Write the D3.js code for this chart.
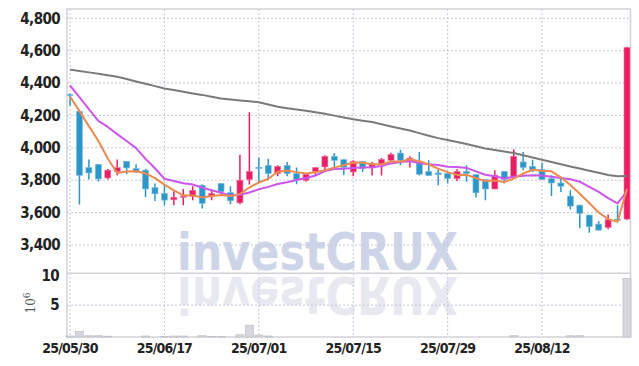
<!DOCTYPE html>
<html>
<head>
<meta charset="utf-8">
<script src="https://cdn.jsdelivr.net/npm/d3@7"></script>
<style>
  body { margin: 0; background: #fff; }
  svg { display: block; }
</style>
</head>
<body>
<svg id="chart"></svg>
<script>
const width = 639
const height = 366

// Data
const dates = ["25/05/30","25/06/02","25/06/04","25/06/05","25/06/09","25/06/10","25/06/11","25/06/12","25/06/13","25/06/16",
  "25/06/17","25/06/18","25/06/19","25/06/20","25/06/23","25/06/24","25/06/25","25/06/26","25/06/27","25/06/30",
  "25/07/01","25/07/02","25/07/03","25/07/04","25/07/07","25/07/08","25/07/09","25/07/10","25/07/11","25/07/14",
  "25/07/15","25/07/16","25/07/17","25/07/18","25/07/21","25/07/22","25/07/23","25/07/24","25/07/25","25/07/28",
  "25/07/29","25/07/30","25/07/31","25/08/01","25/08/04","25/08/05","25/08/06","25/08/07","25/08/08","25/08/11",
  "25/08/12","25/08/13","25/08/14","25/08/18","25/08/19","25/08/20","25/08/21","25/08/22","25/08/25","25/08/26"]

const opens = [4330,4225,3878,3898,3814,3853,3917,3872,3862,3755,3718,3679,3697,3700,3769,3702,3780,3724,3660,3804,
  3880,3892,3841,3892,3841,3800,3855,3882,3948,3927,3851,3917,3876,3898,3923,3968,3913,3917,3855,3845,
  3841,3810,3855,3835,3804,3746,3855,3820,3913,3886,3866,3810,3783,3702,3646,3585,3529,3509,3560,3560]
const highs = [4335,4230,3928,3900,3870,3928,3918,3898,3870,3780,3770,3732,3746,3763,3775,3738,3782,3763,3958,4220,
  3940,3933,3892,3913,3878,3845,3882,3954,3968,3930,3923,3918,3913,3937,3970,3988,3948,3974,3923,3868,
  3843,3868,3892,3838,3806,3862,3857,3991,3974,3927,3906,3831,3820,3738,3648,3587,3548,3589,3646,4625]
const lows = [4260,3650,3805,3792,3804,3830,3837,3845,3697,3671,3646,3646,3646,3677,3626,3677,3718,3652,3652,3773,
  3790,3804,3825,3825,3775,3790,3830,3851,3872,3830,3825,3851,3829,3829,3919,3892,3878,3829,3826,3769,
  3780,3796,3790,3693,3677,3745,3780,3818,3862,3851,3802,3702,3728,3620,3503,3476,3490,3497,3555,3555]
const closes = [4325,3830,3845,3808,3862,3878,3876,3851,3746,3716,3677,3695,3702,3738,3657,3718,3728,3673,3800,3855,
  3876,3841,3886,3841,3804,3837,3878,3948,3923,3878,3917,3872,3898,3929,3960,3923,3937,3837,3829,3835,
  3810,3855,3841,3722,3746,3831,3804,3948,3878,3862,3804,3783,3763,3640,3595,3513,3492,3558,3556,4620]

// moving averages as drawn (short, mid, long)
const ma5 = [4317,4227,4134,4044,3934,3845,3854,3855,3843,3813,3773,3737,3707,3706,3694,3702,3709,3703,3715,3755,
  3786,3809,3852,3860,3850,3842,3849,3862,3878,3893,3909,3908,3898,3899,3915,3916,3929,3917,3897,3872,
  3850,3833,3834,3813,3795,3799,3789,3810,3841,3865,3859,3855,3818,3770,3717,3659,3601,3560,3543,3748]
const ma10 = [4385,4313,4239,4167,4129,4085,4042,3998,3932,3874,3809,3795,3781,3774,3754,3738,3723,3705,3710,3724,
  3744,3759,3777,3788,3802,3814,3829,3857,3869,3871,3875,3878,3880,3888,3904,3913,3919,3907,3898,3894,
  3883,3881,3876,3855,3834,3824,3811,3822,3827,3830,3829,3822,3814,3806,3791,3759,3728,3689,3657,3732]
const maLong = [4483,4475,4466,4458,4449,4439,4425,4410,4396,4381,4367,4357,4346,4336,4327,4316,4305,4299,4293,4287,
  4281,4268,4254,4245,4237,4229,4220,4210,4199,4188,4177,4168,4159,4146,4132,4119,4107,4091,4075,4060,
  4048,4036,4024,4010,3996,3986,3977,3968,3954,3940,3926,3912,3899,3885,3872,3859,3846,3832,3824,3826]

// volume in millions
const volumes = [0.15,0.85,0.2,0.2,0.12,0,0,0,0.15,0,0.1,0.15,0.15,0,0.2,0.1,0.1,0,0.35,1.85,
  0.3,0.15,0,0,0,0,0,0,0,0,0,0,0,0,0,0,0,0,0,0,
  0,0,0,0,0,0,0,0.2,0,0,0,0,0,0.2,0.2,0,0,0,0,9.2]

const priceTicks = [3400, 3600, 3800, 4000, 4200, 4400, 4600, 4800]
const volumeTicks = [5, 10]
const dateTicks = ["25/05/30","25/06/17","25/07/01","25/07/15","25/07/29","25/08/12"]

// Layout
const plotLeft = 67
const plotRight = 630.5
const priceTop = 9
const priceBottom = 273.3
const volumeBottom = 337

const upColor = "#e91e63"
const downColor = "#2d96c9"
const gridColor = "#c4c8dc"
const frameColor = "#d2d2d8"
const labelFont = "'Liberation Sans Narrow', 'DejaVu Sans Condensed', sans-serif"
const markFont = "'DejaVu Sans', sans-serif"

const svg = d3.select("#chart")
    .attr("width", width)
    .attr("height", height)

const x = d3.scalePoint()
    .domain(dates)
    .range([70, 627])

const y = d3.scaleLinear()
    .domain([3400, 4800])
    .range([245, 18.3])

const yVol = d3.scaleLinear()
    .domain([0, 10])
    .range([volumeBottom, priceBottom])

svg.append("defs").append("clipPath")
    .attr("id", "priceClip")
    .append("rect")
    .attr("x", plotLeft)
    .attr("y", priceTop)
    .attr("width", plotRight - plotLeft)
    .attr("height", priceBottom - priceTop)

// Watermark + reflection
const mark = svg.append("g")
mark.append("text")
    .attr("x", 177)
    .attr("y", 270)
    .attr("textLength", 281)
    .attr("lengthAdjust", "spacingAndGlyphs")
    .attr("font-family", markFont)
    .attr("font-weight", "bold")
    .attr("font-size", 52)
    .attr("fill", "#cfd5e8")
    .text("investCRUX")
mark.append("text")
    .attr("x", 177)
    .attr("y", -277)
    .attr("transform", "scale(1,-1)")
    .attr("textLength", 281)
    .attr("lengthAdjust", "spacingAndGlyphs")
    .attr("font-family", markFont)
    .attr("font-weight", "bold")
    .attr("font-size", 52)
    .attr("fill", "#e8e9f0")
    .text("investCRUX")

// Grid
const grid = svg.append("g")
    .attr("stroke", gridColor)
    .attr("stroke-width", 1)
    .attr("stroke-dasharray", "2,2")

grid.selectAll(".hgrid")
    .data(priceTicks)
    .enter()
    .append("line")
    .attr("x1", plotLeft)
    .attr("x2", plotRight)
    .attr("y1", d => y(d))
    .attr("y2", d => y(d))

grid.selectAll(".vgrid-vol")
    .data(volumeTicks.filter(d => d < 10))
    .enter()
    .append("line")
    .attr("x1", plotLeft)
    .attr("x2", plotRight)
    .attr("y1", d => yVol(d))
    .attr("y2", d => yVol(d))

grid.selectAll(".xgrid")
    .data(dateTicks)
    .enter()
    .append("line")
    .attr("x1", d => x(d))
    .attr("x2", d => x(d))
    .attr("y1", priceTop)
    .attr("y2", volumeBottom)

// Frame
const frame = svg.append("g")
    .attr("stroke", frameColor)
    .attr("stroke-width", 1.5)
    .attr("fill", "none")
frame.append("rect")
    .attr("x", plotLeft)
    .attr("y", priceTop)
    .attr("width", plotRight - plotLeft)
    .attr("height", volumeBottom - priceTop)
frame.append("line")
    .attr("x1", plotLeft)
    .attr("x2", plotRight)
    .attr("y1", priceBottom)
    .attr("y2", priceBottom)

// Volume bars
svg.append("g")
    .selectAll("rect")
    .data(volumes.map((v, i) => ({ date: dates[i], v })).filter(d => d.v > 0))
    .enter()
    .append("rect")
    .attr("x", d => x(d.date) - 4)
    .attr("width", 8)
    .attr("y", d => yVol(d.v))
    .attr("height", d => volumeBottom - yVol(d.v))
    .attr("fill", "#d6d6dc")
    .attr("stroke", "#c2c2ca")
    .attr("stroke-width", 0.8)

// Candles
const candles = dates.map((d, i) => ({ date: d, o: opens[i], h: highs[i], l: lows[i], c: closes[i] }))
const candleColor = d => d.c >= d.o ? upColor : downColor

const candleGroup = svg.append("g").attr("clip-path", "url(#priceClip)")

candleGroup.selectAll(".wick")
    .data(candles)
    .enter()
    .append("line")
    .attr("x1", d => x(d.date))
    .attr("x2", d => x(d.date))
    .attr("y1", d => y(d.h))
    .attr("y2", d => y(d.l))
    .attr("stroke", candleColor)
    .attr("stroke-width", 1.5)

candleGroup.selectAll(".body")
    .data(candles)
    .enter()
    .append("rect")
    .attr("x", d => x(d.date) - 3)
    .attr("width", 6)
    .attr("y", d => y(Math.max(d.o, d.c)))
    .attr("height", d => Math.max(1.2, Math.abs(y(d.o) - y(d.c))))
    .attr("fill", candleColor)
    .attr("stroke", d => d.c >= d.o ? "#f07aa2" : "#7fbde0")
    .attr("stroke-width", 0.6)

// Moving average lines
const maLine = values => d3.line()
    .x((d, i) => x(dates[i]))
    .y(d => y(d))(values)

const maSeries = [
    { values: maLong, color: "#7a7a7a" },
    { values: ma10, color: "#cc55ee" },
    { values: ma5, color: "#ee8a50" }
]

candleGroup.selectAll(".ma")
    .data(maSeries)
    .enter()
    .append("path")
    .attr("d", d => maLine(d.values))
    .attr("fill", "none")
    .attr("stroke", d => d.color)
    .attr("stroke-width", 2)
    .attr("stroke-linejoin", "round")

// Axis labels
svg.append("g")
    .selectAll("text")
    .data(priceTicks)
    .enter()
    .append("text")
    .attr("x", 60)
    .attr("y", d => y(d))
    .attr("dy", "0.35em")
    .attr("text-anchor", "end")
    .attr("font-family", labelFont)
    .attr("font-weight", "bold")
    .attr("font-size", 15)
    .attr("letter-spacing", -0.6)
    .attr("fill", "#222")
    .text(d => d3.format(",")(d))

svg.append("g")
    .selectAll("text")
    .data(volumeTicks)
    .enter()
    .append("text")
    .attr("x", 59)
    .attr("y", d => yVol(d) + (d == 10 ? 2.5 : 0))
    .attr("dy", "0.35em")
    .attr("text-anchor", "end")
    .attr("font-family", labelFont)
    .attr("font-weight", "bold")
    .attr("font-size", 15)
    .attr("letter-spacing", -0.6)
    .attr("fill", "#222")
    .text(d => d)

const unit = svg.append("text")
    .attr("transform", "translate(35,303) rotate(-90)")
    .attr("text-anchor", "middle")
    .attr("font-family", "'DejaVu Serif', serif")
    .attr("font-size", 12)
    .attr("fill", "#555")
unit.append("tspan").text("10")
unit.append("tspan").attr("dy", -5).attr("font-size", 9).text("6")

svg.append("g")
    .selectAll("text")
    .data(dateTicks)
    .enter()
    .append("text")
    .attr("x", d => x(d))
    .attr("y", 353)
    .attr("text-anchor", "middle")
    .attr("font-family", labelFont)
    .attr("font-weight", "bold")
    .attr("font-size", 14)
    .attr("letter-spacing", -0.8)
    .attr("fill", "#222")
    .text(d => d)
</script>
</body>
</html>
